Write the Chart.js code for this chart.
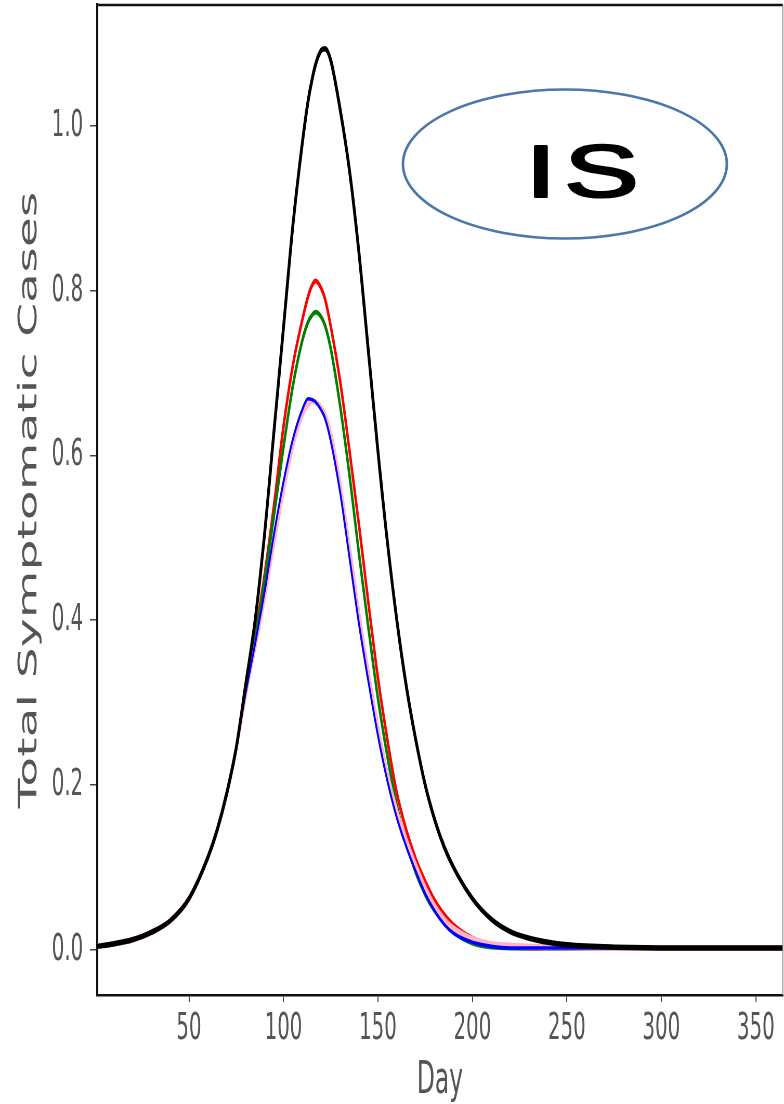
<!DOCTYPE html>
<html><head><meta charset="utf-8">
<script src="https://cdn.jsdelivr.net/npm/chart.js@4.4.1/dist/chart.umd.min.js"></script>
<style>
html,body{margin:0;padding:0;background:#fff;overflow:hidden}
#c{display:block;width:784px !important;height:1104px !important}
</style></head>
<body><canvas id="c" width="1508" height="1104" style="width:784px;height:1104px;display:block"></canvas>
<script>
// ---- data ----
const days = [1,10,20,30,40,50,60,65,70,75,80,85,90,95,100,105,110,113,115,117,120,122,125,130,135,140,145,150,155,160,165,170,175,180,185,190,200,210,220,230,240,250,275,300,325,365];
const seriesBlack = [0.004,0.007,0.012,0.021,0.035,0.062,0.112,0.146,0.19,0.245,0.322,0.40,0.505,0.63,0.755,0.88,0.98,1.03,1.055,1.075,1.092,1.094,1.08,1.02,0.945,0.845,0.725,0.605,0.495,0.40,0.32,0.255,0.20,0.158,0.125,0.10,0.062,0.037,0.022,0.014,0.009,0.006,0.003,0.002,0.002,0.002];
const seriesRed   = [0.004,0.007,0.012,0.021,0.035,0.062,0.112,0.146,0.19,0.245,0.317,0.382,0.455,0.54,0.635,0.71,0.765,0.793,0.806,0.812,0.803,0.79,0.757,0.69,0.605,0.515,0.42,0.33,0.255,0.19,0.145,0.11,0.083,0.06,0.043,0.03,0.014,0.006,0.003,0.002,0.002,0.002,0.002,0.002,0.002,0.002];
const seriesGreen = [0.004,0.007,0.012,0.021,0.035,0.062,0.112,0.146,0.19,0.245,0.315,0.378,0.448,0.528,0.61,0.685,0.74,0.762,0.77,0.774,0.768,0.758,0.73,0.66,0.575,0.48,0.39,0.305,0.235,0.175,0.13,0.094,0.067,0.047,0.032,0.021,0.008,0.003,0.002,0.002,0.002,0.002,0.002,0.002,0.002,0.002];
const seriesBlue  = [0.004,0.007,0.012,0.021,0.035,0.062,0.112,0.146,0.19,0.245,0.312,0.372,0.435,0.505,0.568,0.62,0.656,0.669,0.668,0.665,0.655,0.645,0.618,0.555,0.475,0.395,0.325,0.26,0.205,0.16,0.125,0.095,0.068,0.047,0.031,0.02,0.009,0.004,0.002,0.002,0.002,0.002,0.002,0.002,0.002,0.002];
const seriesPink  = [0.004,0.007,0.012,0.021,0.035,0.062,0.112,0.146,0.19,0.245,0.31,0.368,0.428,0.495,0.558,0.612,0.65,0.662,0.666,0.665,0.658,0.65,0.627,0.565,0.487,0.407,0.335,0.27,0.213,0.168,0.133,0.102,0.075,0.053,0.037,0.026,0.013,0.007,0.005,0.004,0.003,0.003,0.002,0.002,0.002,0.002];
const yTickValues = [0.0,0.2,0.4,0.6,0.8,1.0];
const xTickValues = [50,100,150,200,250,300,350];
const xLabel = 'Day';
const yLabel = 'Total Symptomatic Cases';
const badgeText = 'IS';

// ---- layout (the reference figure is squeezed horizontally) ----
const SQUEEZE = 0.52;           // displayed width / drawn width
const CW = 1508;                // drawn canvas width (784 / SQUEEZE)
const PLOT_LEFT = 97 / SQUEEZE, PLOT_RIGHT = 783 / SQUEEZE;

const pts = arr => days.map((d, i) => ({x: d, y: arr[i]}));

const framePlugin = {
  id: 'frame',
  afterDraw(chart) {
    const {ctx, chartArea: a} = chart;
    ctx.save();
    ctx.strokeStyle = '#111'; ctx.lineWidth = 2.5;
    ctx.beginPath(); ctx.moveTo(a.left, a.top); ctx.lineTo(a.right, a.top); ctx.stroke();
    ctx.strokeStyle = '#8a8a8a'; ctx.lineWidth = 2;
    ctx.beginPath(); ctx.moveTo(a.right, a.top); ctx.lineTo(a.right, a.bottom); ctx.stroke();
    // badge, drawn in displayed (un-squeezed) units
    ctx.scale(1 / SQUEEZE, 1);
    ctx.beginPath();
    ctx.ellipse(565, 164, 162, 74.5, 0, 0, Math.PI * 2);
    ctx.fillStyle = '#fff'; ctx.fill();
    ctx.strokeStyle = '#4a78a8'; ctx.lineWidth = 2.6; ctx.stroke();
    ctx.translate(586, 197);
    ctx.scale(1.5, 1);
    ctx.fillStyle = '#000'; ctx.strokeStyle = '#000'; ctx.lineWidth = 2.2; ctx.lineJoin = 'round';
    ctx.font = '75px "Liberation Sans"';
    ctx.textAlign = 'center'; ctx.textBaseline = 'alphabetic';
    try { ctx.letterSpacing = '5px'; } catch (e) {}
    ctx.fillText(badgeText, 0, 0);
    ctx.strokeText(badgeText, 0, 0);
    ctx.restore();
  }
};

new Chart(document.getElementById('c'), {
  type: 'line',
  data: {
    datasets: [
      {label: 'black', data: pts(seriesBlack), borderColor: '#000000', borderWidth: 5.5},
      {label: 'blue',  data: pts(seriesBlue),  borderColor: '#0000ff', borderWidth: 3.6},
      {label: 'pink',  data: pts(seriesPink),  borderColor: '#ffb3c4', borderWidth: 6},
      {label: 'green', data: pts(seriesGreen), borderColor: '#008000', borderWidth: 4.8},
      {label: 'red',   data: pts(seriesRed),   borderColor: '#ff0000', borderWidth: 4.8}
    ]
  },
  options: {
    responsive: false, animation: false, devicePixelRatio: 1,
    layout: {padding: {top: 5, right: CW - PLOT_RIGHT, left: 0, bottom: 0}},
    elements: {point: {radius: 0}, line: {cubicInterpolationMode: 'monotone', fill: false}},
    plugins: {legend: {display: false}, tooltip: {enabled: false}},
    scales: {
      x: {
        type: 'linear', min: 1.3, max: 364.3,
        afterFit(s) { s.height = 109; s.paddingLeft = 0; s.paddingRight = 0; },
        afterBuildTicks(s) { s.ticks = xTickValues.map(v => ({value: v})); },
        grid: {drawOnChartArea: false, drawTicks: true, tickLength: 7, color: '#444', lineWidth: 2},
        border: {display: true, color: '#111', width: 2.5},
        ticks: {color: '#555', padding: 4, maxRotation: 0, font: {family: 'DejaVu Sans', size: 38},
                callback: v => String(v)},
        title: {display: true, text: xLabel, color: '#555', font: {family: 'DejaVu Sans', size: 45, lineHeight: 1.0},
                padding: {top: 0, bottom: 0}}
      },
      y: {
        min: -0.055, max: 1.147,
        afterFit(s) { s.width = PLOT_LEFT; s.paddingTop = 0; s.paddingBottom = 0; },
        afterBuildTicks(s) { s.ticks = yTickValues.map(v => ({value: v})); },
        grid: {drawOnChartArea: false, drawTicks: true, tickLength: 13.5, color: '#444', lineWidth: 1.5},
        border: {display: true, color: '#111', width: 4},
        ticks: {color: '#555', padding: 13, font: {family: 'DejaVu Sans', size: 38},
                callback: v => v.toFixed(1)},
        title: {display: true, text: yLabel, color: '#555', font: {family: 'DejaVu Sans', size: 49, lineHeight: 1.2},
                padding: {top: 28, bottom: 0}}
      }
    }
  },
  plugins: [framePlugin]
});
</script>
</body></html>
